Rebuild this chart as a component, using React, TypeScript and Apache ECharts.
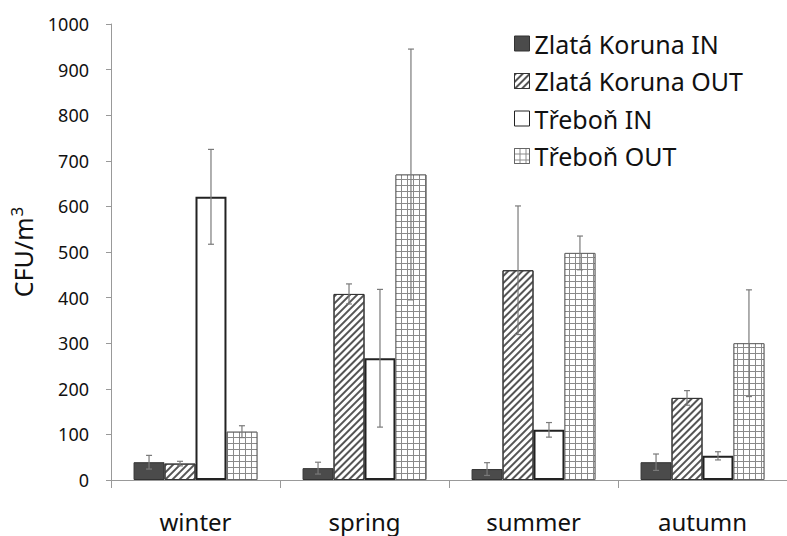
import React, { useEffect, useRef } from "react";
import * as echarts from "echarts";

const categories = ["winter", "spring", "summer", "autumn"];
const seriesNames = ["Zlatá Koruna IN", "Zlatá Koruna OUT", "Třeboň IN", "Třeboň OUT"];
const zkIn = [39, 26, 24, 39];
const zkInErr = [15, 13, 14, 18];
const zkOut = [36, 408, 460, 180];
const zkOutErr = [5, 22, 141, 16];
const trIn = [621, 267, 110, 53];
const trInErr = [104, 151, 16, 9];
const trOut = [106, 670, 498, 300];
const trOutErr = [13, 275, 37, 117];
const yTicks = [0, 100, 200, 300, 400, 500, 600, 700, 800, 900, 1000];

const GAP = 0.267;
const FONT = "'Noto Sans', 'Open Sans', sans-serif";

export default function App() {
  const ref = useRef<HTMLDivElement>(null);
  useEffect(() => {
    const chart = echarts.init(ref.current!, null, { renderer: "svg" });
    const values = [zkIn, zkOut, trIn, trOut];
    const errs = [zkInErr, zkOutErr, trInErr, trOutErr];
    const styles: any[] = [
      { color: "#4b4b4b", borderColor: "#333", borderWidth: 1 },
      {
        color: "#ffffff",
        borderColor: "#333",
        borderWidth: 1,
        decal: {
          symbol: "rect",
          symbolSize: 1,
          color: "#555",
          dashArrayX: [1, 0],
          dashArrayY: [1.4, 2.6],
          rotation: -Math.PI / 4,
        },
      },
      { color: "#ffffff", borderColor: "#222", borderWidth: 2 },
      {
        color: "#8a8a8a",
        borderColor: "#666",
        borderWidth: 1,
        decal: {
          symbol: "rect",
          symbolSize: 1,
          color: "#ffffff",
          dashArrayX: [4.3, 1],
          dashArrayY: [4.3, 1],
          rotation: 0,
        },
      },
    ];
    const barSeries = seriesNames.map((name, s) => ({
      name,
      type: "bar",
      data: values[s],
      barGap: "0%",
      barCategoryGap: GAP * 100 + "%",
      itemStyle: styles[s],
    }));
    const errSeries = seriesNames.map((name, s) => ({
      type: "custom",
      name: name + " err",
      z: 5,
      silent: true,
      data: values[s].map((v, i) => [i, v, errs[s][i]]),
      encode: { x: 0, y: 1 },
      renderItem: (params: any, api: any) => {
        const idx = api.value(0);
        const v = api.value(1);
        const e = api.value(2);
        const c = api.coord([idx, v]);
        const catW = api.size([1, 0])[0];
        const bw = (catW * (1 - GAP)) / 4;
        const x = c[0] + (s - 1.5) * bw;
        const top = api.coord([idx, v + e])[1];
        const bot = api.coord([idx, Math.max(v - e, 0)])[1];
        const st = { stroke: "#7a7a7a", lineWidth: 1.2 };
        return {
          type: "group",
          children: [
            { type: "line", shape: { x1: x, y1: top, x2: x, y2: bot }, style: st },
            { type: "line", shape: { x1: x - 3, y1: top, x2: x + 3, y2: top }, style: st },
            { type: "line", shape: { x1: x - 3, y1: bot, x2: x + 3, y2: bot }, style: st },
          ],
        };
      },
    }));
    chart.setOption({
      animation: false,
      backgroundColor: "#ffffff",
      grid: { left: 107, top: 24, bottom: 56, width: 688 },
      legend: {
        data: seriesNames.map((n) => ({ name: n, icon: "rect" })),
        orient: "vertical",
        left: 509,
        top: 26,
        itemWidth: 15,
        itemHeight: 15,
        itemGap: 12.5,
        itemStyle: { borderWidth: 1 },
        textStyle: { fontFamily: FONT, fontSize: 25, color: "#111" },
      },
      xAxis: {
        type: "category",
        data: categories,
        axisLine: { lineStyle: { color: "#999", width: 1 } },
        axisTick: { show: true, length: 8, lineStyle: { color: "#999" } },
        axisLabel: { fontFamily: FONT, fontSize: 24, color: "#111", margin: 29 },
      },
      yAxis: {
        type: "value",
        min: 0,
        max: 1000,
        interval: 100,
        name: "{a|CFU/m}{b|3}",
        nameLocation: "middle",
        nameGap: 73,
        nameTextStyle: {
          fontFamily: FONT,
          fontSize: 25,
          color: "#111",
          rich: {
            a: { fontFamily: FONT, fontSize: 25, color: "#111" },
            b: { fontFamily: FONT, fontSize: 17, color: "#111", padding: [0, 0, 13, 1] },
          },
        },
        axisLine: { show: true, lineStyle: { color: "#999", width: 1 } },
        axisTick: { show: true, length: 5, lineStyle: { color: "#999" } },
        splitLine: { show: false },
        axisLabel: {
          fontFamily: FONT,
          fontSize: 18,
          color: "#111",
          margin: 22,
          formatter: (v: number) => (yTicks.includes(v) ? String(v) : ""),
        },
      },
      series: [...barSeries, ...errSeries],
    });
    return () => chart.dispose();
  }, []);
  return (
    <div
      ref={ref}
      style={{ position: "fixed", left: 0, top: 0, width: 787, height: 536 }}
    />
  );
}
